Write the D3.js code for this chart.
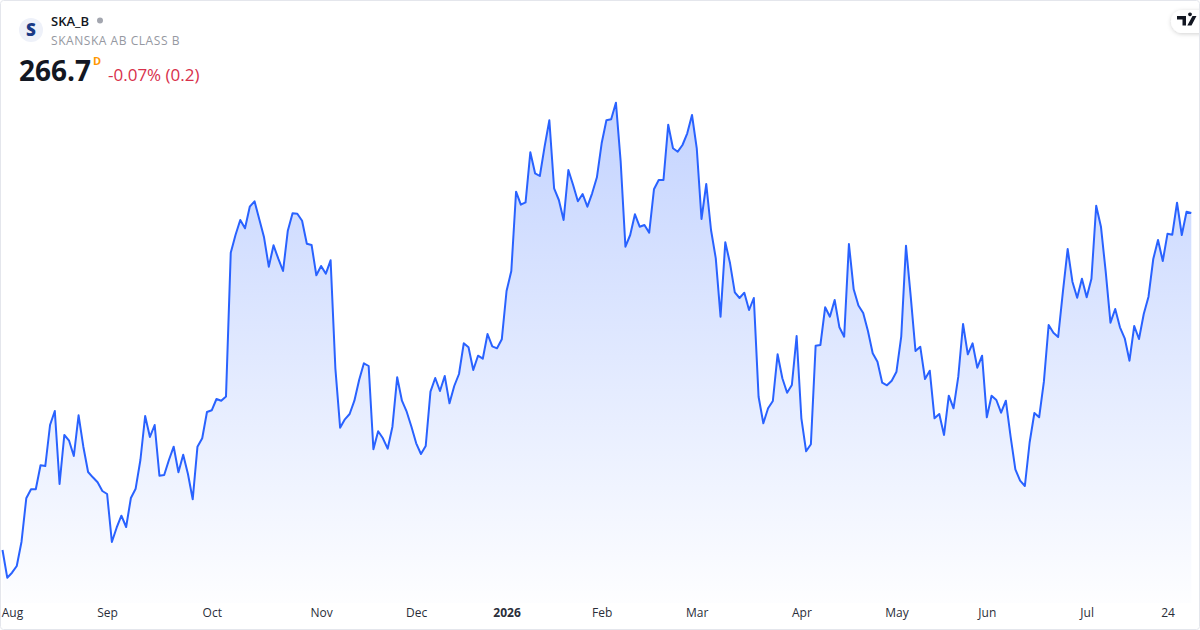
<!DOCTYPE html>
<html>
<head>
<meta charset="utf-8">
<script src="https://d3js.org/d3.v7.min.js"></script>
<style>
html, body { margin: 0; padding: 0; background: #fff; overflow: hidden; }
svg { display: block; font-family: "Open Sans", sans-serif; }
</style>
</head>
<body>
<script>
// closing prices
var closes = [
199.3,193.76,194.76,196.1,200.96,209.64,211.44,211.44,216.24,216.1,
224.3,227.1,212.5,222.3,221.16,218.1,226.24,219.96,214.9,213.84,
212.84,211.1,210.5,200.9,203.76,206.16,203.9,209.7,211.56,217.3,
226.1,221.9,224.3,214.16,214.3,217.3,219.96,214.84,218.36,214.5,
209.44,219.96,221.64,226.9,227.24,229.5,229.16,230,258.76,262.3,
265.3,263.64,267.96,269.04,265.44,261.84,255.96,260.24,257.56,255.1,
263.16,266.64,266.56,265.16,260.56,260.3,254.24,256.1,254.56,257.24,
235.64,223.76,225.44,226.5,229.16,233.3,236.64,236.1,219.44,223.04,
221.64,219.56,223.96,233.84,229.16,226.96,223.96,220.64,218.5,220.1,
230.96,233.7,231.1,234.1,228.64,232.1,234.5,240.64,239.84,235.3,
238.16,237.56,242.5,240.04,239.64,241.44,251.1,255.1,270.96,268.36,
268.84,278.84,274.64,274.1,279.96,285.24,271.64,269.3,265.3,275.3,
272.3,269.04,270.5,267.96,270.64,273.84,280.64,285.24,285.44,288.76,
276.96,259.96,262.3,266.44,263.96,264.3,262.76,271.44,273.3,273.3,
284.36,279.64,278.96,280.3,282.64,286.3,279.64,265.5,272.5,263.3,
257.64,245.96,260.84,256.64,250.84,249.7,250.76,247.3,249.7,229.96,
224.64,227.64,229.1,238.44,233.64,230.76,232.3,242.1,225.64,219.04,
220.44,240.16,240.3,247.84,245.96,249.3,243.84,241.96,260.5,251.44,
248.2,246.7,243.1,238.64,236.96,232.76,232.24,233.16,234.96,241.96,
260.16,249.96,239.1,239.96,233.5,235.16,225.64,226.5,222.3,230.16,
227.64,233.96,244.5,238.44,240.64,235.76,238.16,225.84,230.16,229.3,
226.76,229.16,221.96,215.44,213.16,212.1,220.8,226.7,225.84,232.96,
244.3,242.76,241.9,250.96,259.5,252.96,249.76,253.56,249.84,253.56,
268.16,263.96,254.96,244.76,247.5,243.84,241.64,237.16,244.1,241.5,
246.5,249.96,257.5,261.3,257.1,262.56,262.36,268.76,262.3,266.96,
266.7];

var tickBars = [2,22,44,67,87,106,126,146,168,188,207,228,245];
var tickLabels = ["Aug","Sep","Oct","Nov","Dec","2026","Feb","Mar","Apr","May","Jun","Jul","24"];

var symbol = "SKA_B", fullName = "SKANSKA AB CLASS B";
var lastPrice = "266.7", interval = "D", changeText = "-0.07% (0.2)";

var width = 1200, height = 630;

var svg = d3.select("body").append("svg")
    .attr("width", width)
    .attr("height", height);

var x = d3.scaleLinear().domain([0, closes.length - 1]).range([2.5, 1191.3]);
var y = d3.scaleLinear().domain([190, 290]).range([596.5, 96.5]);

/* area gradient */
var grad = svg.append("defs").append("linearGradient")
    .attr("id", "fade")
    .attr("gradientUnits", "userSpaceOnUse")
    .attr("x1", 0).attr("y1", y(290))
    .attr("x2", 0).attr("y2", 600);
grad.append("stop").attr("offset", 0).attr("stop-color", "#2962FF").attr("stop-opacity", 0.28);
grad.append("stop").attr("offset", 1).attr("stop-color", "#2962FF").attr("stop-opacity", 0.01);

var shadow = svg.select("defs").append("filter")
    .attr("id", "pillShadow")
    .attr("x", "-30%").attr("y", "-30%").attr("width", "160%").attr("height", "170%");
shadow.append("feDropShadow")
    .attr("dx", 0).attr("dy", 1).attr("stdDeviation", 2)
    .attr("flood-color", "#000").attr("flood-opacity", 0.18);

/* chart */
var area = d3.area()
    .x(function(d, i) { return x(i); })
    .y0(603)
    .y1(function(d) { return y(d); });
var line = d3.line()
    .x(function(d, i) { return x(i); })
    .y(function(d) { return y(d); });

svg.append("path").datum(closes).attr("d", area).attr("fill", "url(#fade)");
svg.append("path").datum(closes).attr("d", line)
    .attr("fill", "none")
    .attr("stroke", "#2962FF")
    .attr("stroke-width", 2)
    .attr("stroke-linejoin", "round");

/* time axis */
var axis = svg.append("g")
    .attr("transform", "translate(0,603)")
    .call(d3.axisBottom(x)
        .tickValues(tickBars)
        .tickSize(0)
        .tickPadding(5)
        .tickFormat(function(d, i) { return tickLabels[i]; }));
axis.select(".domain").remove();
axis.selectAll("text")
    .attr("font-family", "'Open Sans', sans-serif")
    .attr("font-size", 12)
    .attr("fill", "#2a2e39")
    .attr("font-weight", function(d, i) { return tickLabels[i] == "2026" ? 700 : 400; });

/* header */
svg.append("circle").attr("cx", 31).attr("cy", 30).attr("r", 12).attr("fill", "#eef1f9");
svg.append("text").attr("x", 31).attr("y", 36).attr("text-anchor", "middle")
    .attr("font-size", 17).attr("font-weight", 800).attr("fill", "#1a3a86").text("S");

svg.append("text").attr("x", 51).attr("y", 26)
    .attr("font-size", 13).attr("font-weight", 600).attr("fill", "#131722").text(symbol);
svg.append("circle").attr("cx", 100).attr("cy", 20.5).attr("r", 3).attr("fill", "#a3a6af");
svg.append("text").attr("x", 51).attr("y", 45)
    .attr("font-size", 12).attr("letter-spacing", 0.55).attr("fill", "#9598a1").text(fullName);

svg.append("text").attr("x", 19).attr("y", 81)
    .attr("font-size", 28).attr("font-weight", 700).attr("fill", "#131722").text(lastPrice);
svg.append("text").attr("x", 93).attr("y", 65)
    .attr("font-size", 11).attr("font-weight", 700).attr("fill", "#ff9800").text(interval);
svg.append("text").attr("x", 108).attr("y", 81)
    .attr("font-size", 17).attr("fill", "#d8304b").text(changeText);

/* logo pill */
svg.append("rect").attr("x", 1171).attr("y", 10).attr("width", 50).attr("height", 23).attr("rx", 11.5)
    .attr("fill", "#fff").attr("filter", "url(#pillShadow)");
svg.append("path")
    .attr("d", "M1177 16H1186V25.5H1182.5V19.5H1177ZM1190 16.2a1.9 1.9 0 1 1 0.01 0ZM1192.5 16H1196.5L1191.5 25.5H1187.3Z")
    .attr("fill", "#131722");

/* outer frame */
svg.append("rect").attr("x", 0.5).attr("y", 0.5).attr("width", width - 1).attr("height", height - 1).attr("rx", 3)
    .attr("fill", "none").attr("stroke", "#e4e6ec");
</script>
</body>
</html>
